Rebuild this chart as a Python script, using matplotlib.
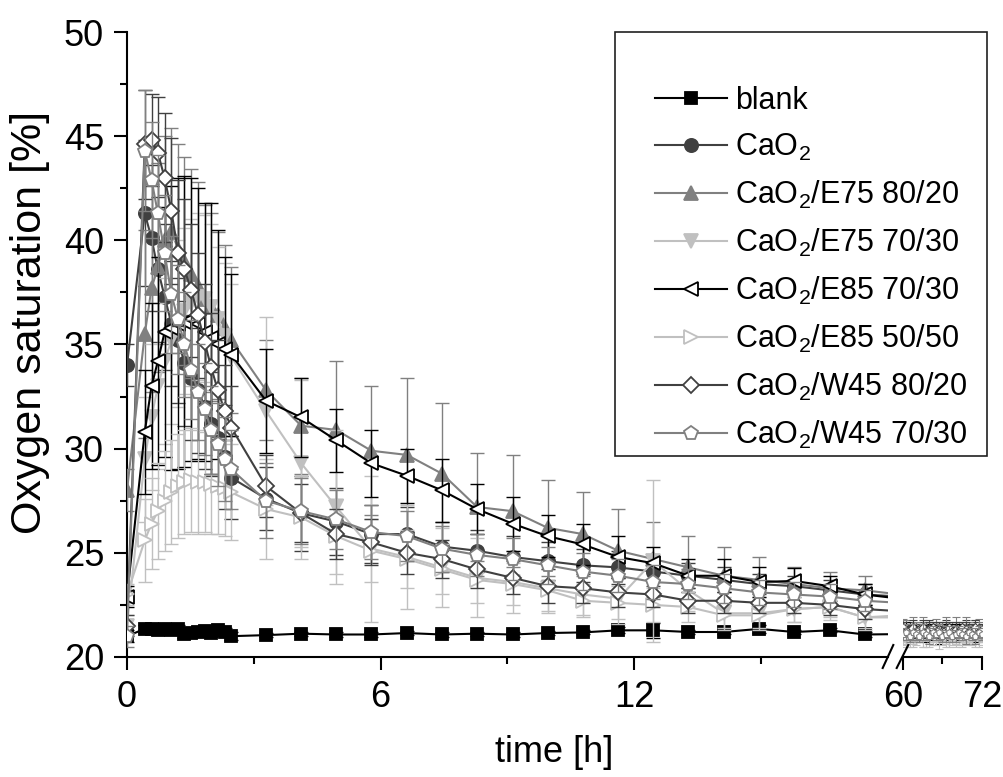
import matplotlib
matplotlib.use("Agg")
import matplotlib.pyplot as plt
from matplotlib.lines import Line2D
from matplotlib.patches import Rectangle
from matplotlib.ticker import MultipleLocator, FixedLocator

plt.rcParams['font.family'] = ['Liberation Sans', 'DejaVu Sans']
plt.rcParams['mathtext.fontset'] = 'custom'
plt.rcParams['mathtext.rm'] = 'Liberation Sans'
plt.rcParams['mathtext.default'] = 'regular'

# time points [h] for the first part (0-18 h) and the tail (60-72 h)
time = [0.0, 0.42, 0.58, 0.73, 0.89, 1.05, 1.21, 1.36, 1.52, 1.68, 1.84, 1.99, 2.15, 2.31, 2.47,
        3.29, 4.12, 4.95, 5.78, 6.62, 7.45, 8.28, 9.12, 9.95, 10.78, 11.62, 12.45, 13.28, 14.12,
        14.95, 15.78, 16.62, 17.45, 18.28]
time_end = [60.0, 60.5, 61.0, 61.5, 62.0, 62.5, 63.0, 63.5, 64.0, 64.5, 65.0, 65.5, 66.0,
            66.5, 67.0, 67.5, 68.0, 68.5, 69.0, 69.5, 70.0, 70.5, 71.0, 71.5, 72.0]

labels = ['blank', 'CaO$_2$', 'CaO$_2$/E75 80/20', 'CaO$_2$/E75 70/30',
          'CaO$_2$/E85 70/30', 'CaO$_2$/E85 50/50', 'CaO$_2$/W45 80/20', 'CaO$_2$/W45 70/30']

# oxygen saturation [%]
blank = [21.0, 21.35, 21.35, 21.3, 21.35, 21.3, 21.35, 21.1, 21.15, 21.2, 21.25, 21.15, 21.3, 21.2, 21.0,
         21.05, 21.12, 21.08, 21.08, 21.15, 21.08, 21.12, 21.08, 21.15, 21.18, 21.28, 21.28, 21.2, 21.2,
         21.35, 21.2, 21.28, 21.08, 21.1]
cao2 = [34.0, 41.3, 40.1, 38.6, 37.3, 36.0, 35.2, 34.1, 33.4, 32.8, 32.0, 31.2, 30.5, 29.6, 28.6,
        27.6, 26.9, 26.5, 25.9, 25.9, 25.3, 25.1, 24.8, 24.6, 24.4, 24.3, 24.1, 23.9, 23.7,
        23.5, 23.4, 23.2, 23.0, 22.9]
e75_8020 = [28.0, 35.5, 37.7, 38.7, 40.0, 40.4, 39.6, 39.0, 38.4, 37.8, 37.2, 36.8, 36.4, 35.8, 35.2,
            32.8, 31.1, 30.9, 29.9, 29.7, 28.8, 27.2, 27.0, 26.2, 25.9, 25.1, 24.7, 24.3, 23.9,
            23.7, 23.5, 23.3, 23.2, 23.0]
e75_7030 = [21.5, 29.5, 31.5, 33.0, 34.2, 35.2, 36.0, 36.6, 37.0, 37.3, 37.2, 36.8, 36.2, 35.4, 34.4,
            31.8, 29.3, 27.2, 25.2, 24.8, 24.3, 23.8, 23.6, 23.3, 23.0, 22.8, 24.6, 23.2, 22.1,
            22.1, 22.3, 22.4, 21.9, 22.0]
e85_7030 = [22.9, 30.8, 33.0, 34.2, 35.6, 35.8, 36.0, 36.1, 36.2, 36.0, 35.6, 35.3, 35.0, 34.8, 34.5,
            32.3, 31.5, 30.4, 29.3, 28.7, 28.0, 27.1, 26.4, 25.8, 25.4, 24.8, 24.5, 23.9, 23.9,
            23.6, 23.65, 23.4, 23.0, 22.8]
e85_5050 = [23.0, 25.6, 26.4, 27.0, 27.5, 27.9, 28.2, 28.4, 28.5, 28.4, 28.4, 28.3, 28.2, 28.1, 27.9,
            27.1, 26.7, 25.8, 25.1, 24.7, 24.2, 23.7, 23.5, 23.2, 22.7, 22.6, 22.5, 22.4, 22.0,
            22.0, 22.3, 22.4, 21.9, 21.9]
w45_8020 = [21.5, 44.6, 44.8, 44.2, 43.0, 41.4, 39.4, 38.6, 37.6, 36.4, 35.1, 33.9, 32.8, 31.8, 31.0,
            28.2, 26.9, 25.9, 25.5, 25.0, 24.7, 24.2, 23.8, 23.4, 23.3, 23.1, 23.0, 22.7, 22.7,
            22.6, 22.6, 22.5, 22.3, 22.2]
w45_7030 = [21.0, 44.3, 42.9, 41.3, 39.4, 37.4, 36.2, 35.0, 33.8, 32.7, 31.9, 30.9, 30.2, 29.5, 29.0,
            27.5, 27.0, 26.6, 26.0, 25.8, 25.2, 24.9, 24.7, 24.4, 24.1, 23.9, 23.6, 23.5, 23.3,
            23.1, 23.0, 22.9, 22.7, 22.6]

# standard deviations
blank_err = [0.3, 0.2, 0.2, 0.2, 0.2, 0.2, 0.2, 0.2, 0.2, 0.2, 0.2, 0.2, 0.2, 0.2, 0.2,
             0.1, 0.1, 0.1, 0.1, 0.1, 0.1, 0.1, 0.1, 0.1, 0.1, 0.15, 0.35, 0.1, 0.1,
             0.2, 0.1, 0.1, 0.1, 0.1]
cao2_err = [1.0, 3.5, 3.5, 3.5, 3.5, 3.0, 3.0, 3.0, 3.0, 3.0, 3.0, 2.5, 2.5, 2.5, 2.0,
            1.5, 1.8, 1.6, 1.4, 1.3, 1.2, 1.0, 1.0, 0.9, 0.8, 0.8, 0.7, 0.6, 0.6,
            0.5, 0.5, 0.5, 0.5, 0.5]
e75_8020_err = [1.0, 5.0, 5.0, 5.0, 5.0, 5.0, 5.0, 5.0, 5.0, 5.0, 4.5, 4.5, 4.0, 4.0, 3.5,
                2.4, 2.3, 3.3, 3.1, 3.7, 3.4, 2.6, 2.7, 2.3, 2.0, 2.0, 1.8, 1.5, 1.4,
                1.1, 0.8, 0.8, 0.7, 0.7]
e75_7030_err = [0.5, 3.0, 3.5, 4.0, 4.0, 4.0, 4.0, 4.0, 4.0, 4.0, 4.0, 4.0, 3.5, 3.5, 3.5,
                4.5, 4.0, 3.7, 3.5, 2.5, 1.9, 1.9, 1.5, 1.2, 1.0, 1.2, 3.9, 1.0, 0.8,
                0.8, 0.6, 0.6, 0.6, 0.6]
e85_7030_err = [0.5, 3.0, 4.0, 5.0, 6.0, 6.8, 7.0, 7.0, 6.8, 6.5, 6.2, 6.5, 5.5, 4.4, 3.9,
                2.5, 1.9, 1.5, 1.6, 1.3, 1.5, 1.2, 1.3, 1.0, 1.0, 1.0, 0.8, 0.8, 0.8,
                0.7, 0.6, 0.5, 0.5, 0.5]
e85_5050_err = [0.5, 2.0, 2.2, 2.3, 2.4, 2.5, 2.5, 2.5, 2.5, 2.5, 2.4, 2.4, 2.3, 2.3, 2.3,
                2.4, 2.0, 1.8, 1.5, 1.4, 1.2, 1.1, 1.0, 1.0, 0.8, 0.8, 0.8, 0.7, 0.6,
                0.6, 0.6, 0.5, 0.5, 0.5]
w45_8020_err = [0.5, 2.6, 2.2, 2.7, 3.1, 3.5, 3.5, 3.4, 3.2, 3.0, 2.8, 2.6, 2.4, 2.2, 2.0,
                1.5, 1.4, 1.2, 1.1, 1.0, 0.9, 0.9, 0.8, 0.8, 0.7, 0.7, 0.6, 0.6, 0.6,
                0.5, 0.5, 0.5, 0.5, 0.5]
w45_7030_err = [0.5, 2.9, 2.8, 2.8, 2.8, 2.8, 2.6, 2.5, 2.4, 2.3, 2.2, 2.1, 2.0, 2.0, 1.9,
                1.8, 1.6, 1.4, 1.3, 1.2, 1.1, 1.0, 1.0, 0.9, 0.9, 0.8, 0.8, 0.7, 0.7,
                0.6, 0.6, 0.6, 0.5, 0.5]

# 60-72 h
blank_end = [21.1, 21.0, 21.2, 21.1, 21.0, 21.1, 21.2, 21.0, 21.1, 21.2, 21.1, 21.0, 21.1,
             21.2, 21.0, 21.1, 21.2, 21.1, 21.0, 21.1, 21.2, 21.0, 21.1, 21.0, 21.1]
cao2_end = [21.3, 21.2, 21.4, 21.2, 21.3, 21.1, 21.3, 21.2, 21.4, 21.2, 21.3, 21.2, 21.3,
            21.4, 21.2, 21.3, 21.1, 21.3, 21.2, 21.4, 21.3, 21.2, 21.3, 21.1, 21.3]
e75_8020_end = [21.5, 21.4, 21.3, 21.5, 21.4, 21.3, 21.5, 21.4, 21.3, 21.4, 21.5, 21.3, 21.4,
                21.5, 21.3, 21.4, 21.5, 21.4, 21.3, 21.5, 21.4, 21.3, 21.4, 21.5, 21.4]
e75_7030_end = [20.9, 21.0, 20.8, 21.0, 20.9, 21.1, 20.9, 20.8, 21.0, 20.9, 21.0, 20.8, 20.9,
                21.0, 20.8, 20.9, 21.0, 20.9, 20.8, 21.0, 20.9, 21.1, 20.9, 20.8, 20.9]
e85_7030_end = [21.2, 21.3, 21.1, 21.2, 21.3, 21.2, 21.1, 21.3, 21.2, 21.1, 21.3, 21.2, 21.1,
                21.2, 21.3, 21.1, 21.2, 21.3, 21.2, 21.1, 21.2, 21.3, 21.1, 21.2, 21.1]
e85_5050_end = [21.0, 20.9, 21.1, 20.9, 21.0, 21.0, 20.9, 21.1, 20.9, 21.0, 20.9, 21.1, 21.0,
                20.9, 21.0, 21.1, 20.9, 21.0, 20.9, 21.1, 21.0, 20.9, 21.0, 21.1, 21.0]
w45_8020_end = [21.4, 21.2, 21.3, 21.4, 21.2, 21.3, 21.4, 21.2, 21.3, 21.4, 21.2, 21.3, 21.2,
                21.3, 21.4, 21.2, 21.3, 21.2, 21.4, 21.3, 21.2, 21.3, 21.4, 21.2, 21.3]
w45_7030_end = [21.1, 21.2, 21.0, 21.2, 21.1, 21.0, 21.2, 21.1, 21.0, 21.2, 21.1, 21.2, 21.0,
                21.1, 21.2, 21.0, 21.1, 21.2, 21.1, 21.0, 21.2, 21.1, 21.0, 21.2, 21.1]
end_err = [0.3, 0.4, 0.3, 0.4, 0.3, 0.3, 0.4, 0.3, 0.4, 0.3, 0.3, 0.4, 0.3,
           0.4, 0.3, 0.3, 0.4, 0.3, 0.3, 0.4, 0.3, 0.3, 0.4, 0.3, 0.3]

series = [blank, cao2, e75_8020, e75_7030, e85_7030, e85_5050, w45_8020, w45_7030]
errors = [blank_err, cao2_err, e75_8020_err, e75_7030_err, e85_7030_err, e85_5050_err,
          w45_8020_err, w45_7030_err]
series_end = [blank_end, cao2_end, e75_8020_end, e75_7030_end, e85_7030_end, e85_5050_end,
              w45_8020_end, w45_7030_end]

colors = ['black', '#404040', '#808080', '#c0c0c0', 'black', '#c0c0c0', '#404040', '#808080']
markers = ['s', 'o', '^', 'v', '<', '>', 'D', 'p']
msizes = [8.5, 9.5, 10, 10, 10.5, 10, 8.5, 10]
filled = [True, True, True, True, False, False, False, False]

W, H = 1004, 777
fig = plt.figure(figsize=(W / 100, H / 100), dpi=100)
ax1 = fig.add_axes([127 / W, 120 / H, 761 / W, 625 / H])
ax2 = fig.add_axes([903 / W, 120 / H, 79 / W, 625 / H], sharey=ax1)

handles = []
for i in range(len(series)):
    face = colors[i] if filled[i] else 'white'
    style = dict(color=colors[i], lw=1.5, marker=markers[i], ms=msizes[i],
                 mfc=face, mec=colors[i], mew=1.3, zorder=3 + i)
    ax1.errorbar(time, series[i], yerr=errors[i], fmt='none', ecolor=colors[i],
                 elinewidth=1.0, capsize=5, capthick=1.0, zorder=3 + i)
    line, = ax1.plot(time, series[i], label=labels[i], **style)
    handles.append(line)
    # tail: denser points, smaller marks
    ax2.errorbar(time_end, series_end[i], yerr=end_err, fmt='none', ecolor=colors[i],
                 elinewidth=0.8, capsize=3, capthick=0.8, zorder=3 + i)
    ax2.plot(time_end, series_end[i], color=colors[i], lw=1.2, marker=markers[i], ms=5,
             mfc=face, mec=colors[i], mew=0.8, zorder=3 + i)

# axes formatting
ax1.set_xlim(0, 18)
ax1.set_ylim(20, 50)
ax1.set_xticks([0, 6, 12])
ax1.xaxis.set_minor_locator(FixedLocator([3, 9, 15]))
ax1.set_yticks([20, 25, 30, 35, 40, 45, 50])
ax1.yaxis.set_minor_locator(MultipleLocator(2.5))
ax2.set_xlim(60, 72)
ax2.set_xticks([60, 72])
ax2.xaxis.set_minor_locator(FixedLocator([66]))

for ax in (ax1, ax2):
    ax.spines['top'].set_visible(False)
    ax.spines['right'].set_visible(False)
    ax.spines['left'].set_linewidth(1.5)
    ax.spines['bottom'].set_linewidth(1.5)
    ax.tick_params(which='major', direction='out', length=9.5, width=1.5, labelsize=26, pad=7)
    ax.tick_params(which='minor', direction='out', length=5, width=1.5)
ax2.spines['left'].set_visible(False)
ax2.tick_params(axis='y', which='both', left=False, labelleft=False)

# axis break marks
for x0, x1 in [(882.7, 893.3), (896.7, 908.3)]:
    fig.add_artist(Line2D([x0 / W, x1 / W], [1 - 668 / H, 1 - 645 / H], color='black', lw=1.5))

fig.text(30 / W, 1 - 322 / H, 'Oxygen saturation [%]', rotation=90, ha='center', va='center', fontsize=31)
fig.text(554 / W, 1 - 752 / H, 'time [h]', ha='center', va='center', fontsize=26)

# legend with its own frame
fig.legend(handles, labels, loc='upper left', bbox_to_anchor=(655 / W, 1 - 86 / H),
           frameon=False, fontsize=22, handlelength=2.35, handletextpad=0.26,
           labelspacing=0.52, borderpad=0, borderaxespad=0)
fig.add_artist(Rectangle((615 / W, 1 - 456 / H), 372 / W, 424 / H, transform=fig.transFigure,
                         fill=False, ec='#202020', lw=1.2))

fig.savefig('out.png', dpi=100)
